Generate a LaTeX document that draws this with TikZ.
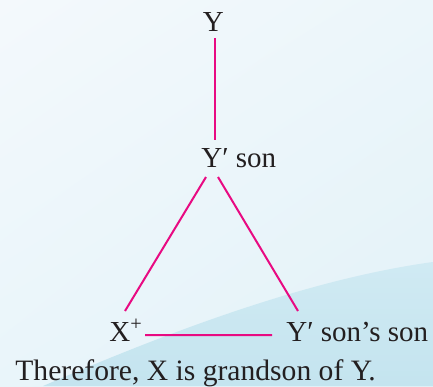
\documentclass[tikz,border=0pt]{standalone}
\usepackage{fontspec}
\setmainfont{Liberation Serif}
\usepackage{tikz}
\usetikzlibrary{positioning, calc, shadings}

\definecolor{bgtl}{RGB}{244,249,252}
\definecolor{bgtr}{RGB}{236,246,250}
\definecolor{bgbl}{RGB}{233,245,250}
\definecolor{bgbr}{RGB}{226,241,248}
\definecolor{wavetop}{RGB}{208,234,243}
\definecolor{wavebot}{RGB}{196,228,239}
\definecolor{relpink}{RGB}{232,10,130}
\definecolor{inkgray}{RGB}{35,31,32}

\begin{document}
\begin{tikzpicture}[x=0.5pt, y=-0.5pt,
  lbl/.style={inner sep=0pt, font=\fontsize{14.5}{17}\selectfont, text=inkgray},
  rel/.style={draw=relpink, line width=1pt}]
\useasboundingbox (0,0) rectangle (433,386);

% Background with the pale wave at the bottom right
\shade[upper left=bgtl, upper right=bgtr, lower left=bgbl, lower right=bgbr] (0,0) rectangle (433,386);
\shade[top color=wavetop, bottom color=wavebot] (43,386) .. controls (150,340) and (300,280) .. (433,262) -- (433,386) -- cycle;

% Family members
\node[lbl, anchor=base] (Y) at (213.3,31.7) {Y};
\node[lbl, anchor=base west] (Yson) at (201,167) {Y′ son};
\node[lbl, anchor=base west] (X) at (109,341) {X\textsuperscript{+}};
\node[lbl, anchor=base west] (Yss) at (286,341.7) {Y′ son’s son};
\node[lbl, anchor=base west, font=\fontsize{14.8}{17}\selectfont] (concl) at (15,380.7) {Therefore, X is grandson of Y.};

% Relations
\draw[rel] ([xshift=0.6pt,yshift=-3.2pt]Y.base) -- ([xshift=6.75pt,yshift=13.5pt]Yson.base west);
\draw[rel] ([xshift=2.5pt,yshift=-5pt]Yson.base west) -- ([xshift=8pt,yshift=15pt]X.base west);
\draw[rel] ([xshift=8.5pt,yshift=-5pt]Yson.base west) -- ([xshift=6pt,yshift=15.35pt]Yss.base west);
\draw[rel] ([xshift=18pt,yshift=3pt]X.base west) -- ([xshift=-7pt,yshift=3.35pt]Yss.base west);

\end{tikzpicture}
\end{document}
